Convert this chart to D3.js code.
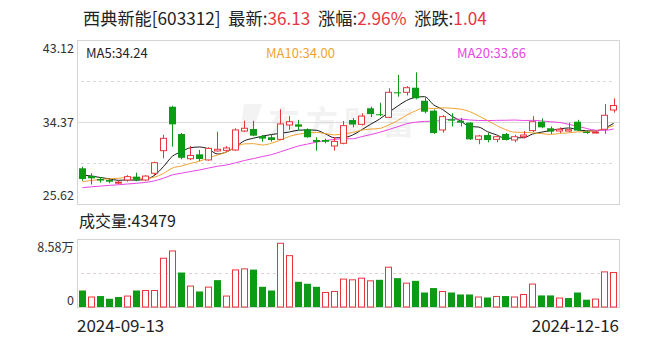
<!DOCTYPE html>
<html><head><meta charset="utf-8">
<script src="https://cdn.jsdelivr.net/npm/d3@7"></script>
<style>
body{margin:0;background:#fff}
svg{display:block}
text{font-family:"Noto Sans CJK SC","Noto Sans",sans-serif}
</style>
</head><body><svg id="c" width="654" height="342"></svg>
<script>
// ---------- data ----------
const dates = ["2024-09-13","2024-09-18","2024-09-19","2024-09-20","2024-09-23","2024-09-24","2024-09-25","2024-09-26","2024-09-27","2024-09-30",
"2024-10-08","2024-10-09","2024-10-10","2024-10-11","2024-10-14","2024-10-15","2024-10-16","2024-10-17","2024-10-18","2024-10-21",
"2024-10-22","2024-10-23","2024-10-24","2024-10-25","2024-10-28","2024-10-29","2024-10-30","2024-10-31","2024-11-01","2024-11-04",
"2024-11-05","2024-11-06","2024-11-07","2024-11-08","2024-11-11","2024-11-12","2024-11-13","2024-11-14","2024-11-15","2024-11-18",
"2024-11-19","2024-11-20","2024-11-21","2024-11-22","2024-11-25","2024-11-26","2024-11-27","2024-11-28","2024-11-29","2024-12-02",
"2024-12-03","2024-12-04","2024-12-05","2024-12-06","2024-12-09","2024-12-10","2024-12-11","2024-12-12","2024-12-13","2024-12-16"];
const openP  = [29.43,28.63,28.29,28.18,27.85,28.18,28.54,28.18,28.90,31.31, 36.00,33.09,30.45,30.92,30.32,31.28,31.35,31.38,33.41,33.62, 32.88,32.74,32.52,34.05,34.12,33.59,32.45,32.45,31.81,32.10, 34.58,34.12,35.83,35.20,34.87,37.54,37.54,38.03,36.64,35.58, 33.52,34.66,34.51,34.30,32.52,32.98,32.52,33.09,32.45,32.80, 33.45,34.40,33.70,33.41,33.40,34.40,33.34,33.25,33.59,35.65];
const highP  = [29.60,28.90,28.50,28.36,28.10,28.70,28.96,28.70,30.14,33.00, 36.10,33.20,31.81,31.38,31.67,33.33,31.80,33.70,34.51,34.50, 32.98,32.98,35.73,35.00,34.60,33.70,32.74,32.60,32.74,34.48, 34.80,35.30,36.00,36.43,37.97,39.39,38.20,39.67,37.00,35.70, 35.10,35.30,34.80,34.35,33.00,33.20,33.00,33.20,33.00,33.40, 35.00,34.76,33.90,33.80,34.30,34.60,33.45,33.40,36.30,36.90];
const lowP   = [28.10,27.70,27.90,27.83,27.75,28.00,28.05,28.05,28.70,30.50, 31.74,30.40,30.30,30.20,30.25,31.20,31.20,31.30,33.30,32.85, 32.27,32.27,32.45,33.52,33.50,32.70,31.31,32.10,31.31,32.00, 33.80,34.00,34.90,35.00,34.80,37.07,37.20,36.80,35.30,33.10, 33.23,33.90,33.90,32.45,32.00,32.20,32.20,32.40,32.20,32.60, 33.30,33.70,33.10,33.20,33.30,33.40,33.10,33.15,33.10,35.37];
const closeP = [28.29,28.36,28.12,28.00,27.95,28.54,28.20,28.60,30.03,32.63, 34.12,30.55,30.80,30.42,31.56,31.46,31.60,33.52,33.70,32.91, 32.60,32.45,34.16,34.40,33.87,32.74,32.24,32.26,32.30,33.98, 34.10,35.00,35.22,35.10,37.54,37.43,38.03,36.90,35.47,33.20, 34.94,34.51,34.30,32.52,32.88,32.45,32.80,32.45,32.80,32.98, 34.40,33.80,33.34,33.59,33.55,33.45,33.20,33.30,35.09,36.13];
const volume = [20800,12600,13800,10400,12600,13800,20800,20800,20800,61500, 70700,43500,26400,19600,25100,33900,13800,46800,48100,47200, 25500,20800,80400,64800,31800,29300,25500,18300,19600,35200, 34300,36400,33000,34300,50200,36400,30100,33000,18300,23900, 19600,18300,15800,15800,12600,12000,13300,13800,12600,15800, 28900,14600,14600,11300,11300,18300,9200,10000,44300,43479];
// closes of the 19 sessions before the window (estimated from where the MA lines start)
const priorCloses = [26.5,26.6,26.4,26.7,26.9,26.8,26.6,26.8,27.0,26.9, 27.0,27.1,27.3,27.4,27.6, 28.95,28.87,28.75,28.73];
const priceTicks = [25.62, 34.37, 43.12];
const volTicks = [0, 85800];
const volTickLabels = ["0", "8.58万"];
const maPeriods = [5, 10, 20];
const maLabels = ["MA5:34.24", "MA10:34.00", "MA20:33.66"];
const header = [["西典新能[603312]  最新:", "k"], ["36.13", "r"], ["  涨幅:", "k"], ["2.96%", "r"], ["  涨跌:", "k"], ["1.04", "r"]];
const volTitle = "成交量:43479";

// ---------- styles ----------
const RED = "#e8353d", GREEN = "#0c9a17", BORDER = "#d4d4d4";
const maColors = ["#1a1a1a", "#f0a431", "#e845e6"];

const svg = d3.select("#c");
const L = 77, R = 619, pTop = 40, pBot = 204, vTop = 239, vBot = 307;

const x = d3.scaleBand().domain(d3.range(dates.length)).range([L, R]).paddingInner(0.22).paddingOuter(0.2);
const yP = d3.scaleLinear().domain([priceTicks[0], priceTicks[2]]).range([pBot, pTop]);
const yV = d3.scaleLinear().domain([0, volTicks[1]]).range([vBot, vTop]);
const bw = x.bandwidth();
const cx = i => Math.round(x(i) + bw / 2) + 0.5;

// header
const ht = svg.append("text").attr("x", 83).attr("y", 25).attr("font-size", 17.2).attr("fill", "#222").attr("xml:space", "preserve").style("white-space", "pre");
header.forEach(([t, c]) => ht.append("tspan").text(t).attr("fill", c === "r" ? RED : "#222"));

// watermark
svg.append("text").attr("x", 268).attr("y", 134).attr("font-size", 32).attr("font-weight", 700)
  .attr("fill", "#f2f2f2").attr("letter-spacing", 6).text("东方财富");
svg.append("path").attr("d", "M244,104 L262,104 L252,134 L240,134 Z").attr("fill", "#f3f3f3");

// grid lines price
const pMid = (priceTicks[0] + priceTicks[2]) / 2;
svg.append("line").attr("x1", L).attr("x2", R).attr("y1", Math.round(yP(pMid)) + 0.5).attr("y2", Math.round(yP(pMid)) + 0.5).attr("stroke", "#dcdcdc");
[(priceTicks[0] + pMid) / 2, (priceTicks[2] + pMid) / 2].forEach(v => {
  svg.append("line").attr("x1", L + 4).attr("x2", R - 4).attr("y1", Math.round(yP(v)) + 0.5).attr("y2", Math.round(yP(v)) + 0.5)
    .attr("stroke", "#d8d8d8").attr("stroke-dasharray", "3,3");
});
svg.append("line").attr("x1", L + 4).attr("x2", R - 4).attr("y1", Math.round(yV(volTicks[1] / 2)) + 0.5).attr("y2", Math.round(yV(volTicks[1] / 2)) + 0.5)
  .attr("stroke", "#e0d0d0").attr("stroke-dasharray", "3,3");

// panel borders
svg.append("rect").attr("x", L + 0.5).attr("y", pTop + 0.5).attr("width", R - L).attr("height", pBot - pTop).attr("fill", "none").attr("stroke", BORDER);
svg.append("rect").attr("x", L + 0.5).attr("y", vTop + 0.5).attr("width", R - L).attr("height", vBot - vTop).attr("fill", "none").attr("stroke", BORDER);

// price axis labels
const ax = svg.append("g").attr("transform", `translate(${L - 3},0)`)
  .call(d3.axisLeft(yP).tickValues(priceTicks).tickSize(0).tickPadding(0).tickFormat(d3.format(".2f")));
ax.select(".domain").remove();
ax.selectAll("text").attr("font-size", 12.5).attr("fill", "#333").attr("font-family", '"Noto Sans CJK SC",sans-serif')
  .attr("dy", d => d === priceTicks[2] ? "1.0em" : d === priceTicks[0] ? "-0.4em" : "0.32em");

// volume axis labels
const vax = svg.append("g").attr("transform", `translate(${L - 3},0)`)
  .call(d3.axisLeft(yV).tickValues(volTicks).tickSize(0).tickPadding(0).tickFormat((d, i) => volTickLabels[i]));
vax.select(".domain").remove();
vax.selectAll("text").attr("font-size", 12.5).attr("fill", "#333").attr("font-family", '"Noto Sans CJK SC",sans-serif')
  .attr("dy", (d, i) => i === 1 ? "1.0em" : "-0.2em");

// MA lines
const allCloses = priorCloses.concat(closeP);
const off = priorCloses.length;
maPeriods.forEach((p, k) => {
  const vals = closeP.map((c, i) => d3.mean(allCloses.slice(off + i - p + 1, off + i + 1)));
  svg.append("path").datum(vals)
    .attr("d", d3.line().x((d, i) => x(i) + bw / 2).y(d => yP(d)).curve(d3.curveMonotoneX))
    .attr("fill", "none").attr("stroke", maColors[k]).attr("stroke-width", 1);
});

// candles
const idx = d3.range(dates.length);
const up = i => closeP[i] >= openP[i];
const cg = svg.append("g");
cg.selectAll("line.w").data(idx).join("line")
  .attr("x1", cx).attr("x2", cx).attr("y1", i => yP(highP[i])).attr("y2", i => yP(lowP[i]))
  .attr("stroke", i => up(i) ? RED : GREEN);
cg.selectAll("rect").data(idx).join("rect")
  .attr("x", i => up(i) ? Math.round(x(i)) + 0.5 : Math.round(x(i)))
  .attr("width", i => up(i) ? Math.round(bw) - 1 : Math.round(bw))
  .attr("y", i => yP(Math.max(openP[i], closeP[i])))
  .attr("height", i => Math.max(1, yP(Math.min(openP[i], closeP[i])) - yP(Math.max(openP[i], closeP[i]))))
  .attr("fill", i => up(i) ? "#fff" : GREEN)
  .attr("stroke", i => up(i) ? RED : "none");

// volume bars (color by close vs previous close)
const volUp = i => closeP[i] >= (i === 0 ? priorCloses[priorCloses.length - 1] : closeP[i - 1]);
svg.append("g").selectAll("rect").data(idx).join("rect")
  .attr("x", i => volUp(i) ? Math.round(x(i)) + 0.5 : Math.round(x(i)))
  .attr("width", i => volUp(i) ? Math.round(bw) - 1 : Math.round(bw))
  .attr("y", i => yV(volume[i]))
  .attr("height", i => vBot - yV(volume[i]))
  .attr("fill", i => volUp(i) ? "#fff" : GREEN)
  .attr("stroke", i => volUp(i) ? RED : "none");

// MA legend
const maX = [86, 266, 457];
maLabels.forEach((t, k) => svg.append("text").attr("x", maX[k]).attr("y", 58).attr("font-size", 13)
  .attr("fill", k === 0 ? "#222" : maColors[k]).text(t));

// volume title
svg.append("text").attr("x", 79).attr("y", 227).attr("font-size", 16).attr("fill", "#222").text(volTitle);

// date labels
svg.append("text").attr("x", L).attr("y", 332).attr("font-size", 17).attr("fill", "#222").text(dates[0]);
svg.append("text").attr("x", R).attr("y", 332).attr("text-anchor", "end").attr("font-size", 17).attr("fill", "#222").text(dates[dates.length - 1]);
</script>
</body></html>
